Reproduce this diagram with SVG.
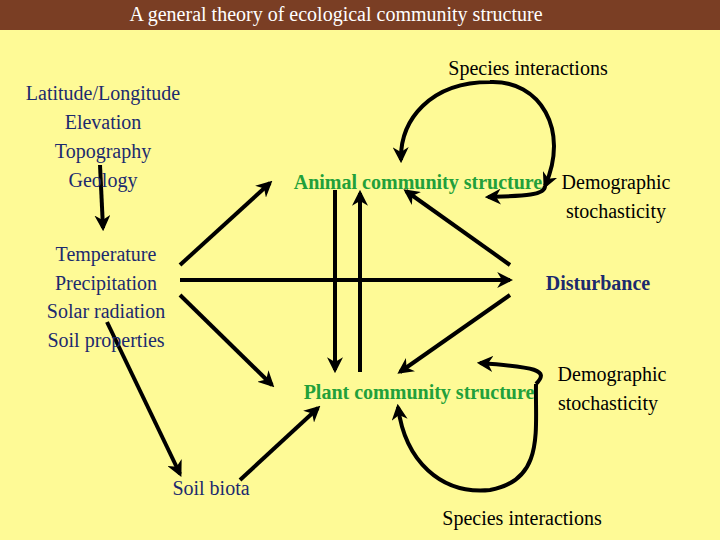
<svg xmlns="http://www.w3.org/2000/svg" width="720" height="540" viewBox="0 0 720 540">
<defs>
<marker id="ah" viewBox="0 0 10 10" refX="8" refY="5" markerWidth="4" markerHeight="4" orient="auto-start-reverse" markerUnits="strokeWidth"><path d="M0,0 L10,5 L0,10 L3,5 Z" fill="#000"/></marker>
</defs>
<style>
text{font-family:"Liberation Serif",serif;font-size:20px;text-anchor:middle}
.n{fill:#1c2a6e}
.g{fill:#22a03a;font-weight:bold}
.k{fill:#000}
.c path,.c line{stroke:#000;stroke-width:4;fill:none;marker-end:url(#ah)}
</style>
<rect width="720" height="540" fill="#fefa96"/>
<rect width="720" height="30" fill="#7a3e24"/>
<text x="336" y="21" fill="#fff" font-size="20">A general theory of ecological community structure</text>
<g class="c">
<line x1="100" y1="165" x2="103" y2="228"/>
<line x1="107" y1="322" x2="180" y2="474"/>
<line x1="180" y1="280" x2="510" y2="280"/>
<line x1="180" y1="265" x2="270" y2="183"/>
<line x1="180" y1="295" x2="272" y2="385"/>
<line x1="240" y1="480" x2="318" y2="408"/>
<line x1="335" y1="190" x2="335" y2="370"/>
<line x1="360" y1="372" x2="360" y2="193"/>
<line x1="510" y1="265" x2="406" y2="191"/>
<line x1="510" y1="295" x2="400" y2="372"/>
<path d="M545,186 C570,130 540,80 490,82 C430,82 400,120 401,160" style="marker-start:url(#ah)" transform=""/>
<path d="M545,186 C545,196 520,196 488,197"/>
<path d="M536,384 C535,430 545,480 490,490 C440,495 405,460 398,407"/>
<path d="M536,384 C550,370 535,367 480,363"/>
</g>
<g id="geo" class="n"><text x="103" y="100">Latitude/Longitude</text><text x="103" y="129">Elevation</text><text x="103" y="158">Topography</text><text x="103" y="187">Geology</text></g>
<g id="climate" class="n"><text x="106" y="261">Temperature</text><text x="106" y="290">Precipitation</text><text x="106" y="318">Solar radiation</text><text x="106" y="347">Soil properties</text></g>
<g id="soilbiota" class="n"><text x="211" y="495">Soil biota</text></g>
<g id="sp1" class="k"><text x="528" y="75">Species interactions</text></g>
<g id="animal"><text class="g" x="418" y="189">Animal community structure</text></g>
<g id="demo1" class="k"><text x="616" y="189">Demographic</text><text x="616" y="218">stochasticity</text></g>
<g id="dist"><text class="n" x="598" y="290" font-weight="bold">Disturbance</text></g>
<g id="plant"><text class="g" x="419" y="399">Plant community structure</text></g>
<g id="demo2" class="k"><text x="612" y="381">Demographic</text><text x="608" y="410">stochasticity</text></g>
<g id="sp2" class="k"><text x="522" y="525">Species interactions</text></g>
</svg>
